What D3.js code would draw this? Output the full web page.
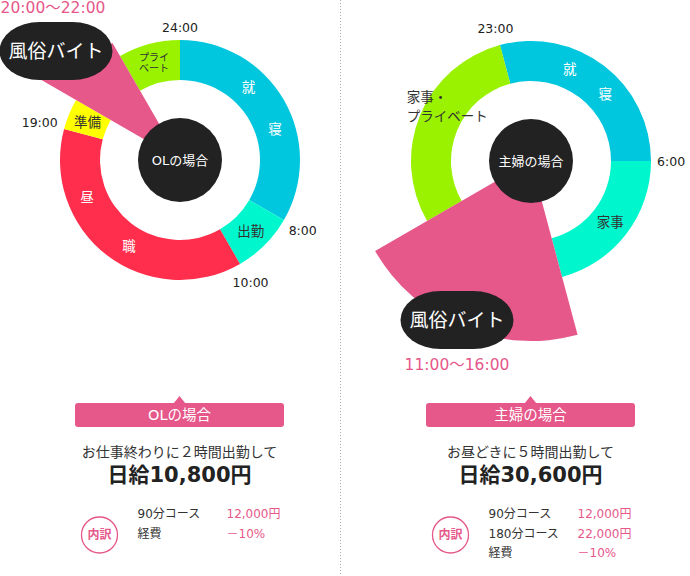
<!DOCTYPE html>
<html>
<head>
<meta charset="utf-8">
<script src="https://cdn.jsdelivr.net/npm/d3@7"></script>
<style>
  body { margin: 0; background: #fff; }
  text { font-family: "DejaVu Sans", "Noto Sans CJK JP", sans-serif; }
</style>
</head>
<body>
<div id="chart"></div>
<script>
// OL day
const olNames = ["就寝", "出勤", "昼職", "準備", "風俗バイト", "プライベート"];
const olStart = [0, 8, 10, 19, 20, 22];
const olEnd = [8, 10, 19, 20, 22, 24];
const olTicks = [24, 8, 10, 19];
const olTickLabels = ["24:00", "8:00", "10:00", "19:00"];
const olJobRange = "20:00〜22:00";

// housewife day
const shuNames = ["就寝", "家事", "風俗バイト", "家事・プライベート"];
const shuStart = [23, 6, 11, 16];
const shuEnd = [6, 11, 16, 23];
const shuTicks = [23, 6];
const shuTickLabels = ["23:00", "6:00"];
const shuJobRange = "11:00〜16:00";

// summary texts
const caseNames = ["OLの場合", "主婦の場合"];
const caseLeads = ["お仕事終わりに２時間出勤して", "お昼どきに５時間出勤して"];
const casePay = ["日給10,800円", "日給30,600円"];
const olItems = ["90分コース", "経費"];
const olAmounts = ["12,000円", "－10%"];
const shuItems = ["90分コース", "180分コース", "経費"];
const shuAmounts = ["12,000円", "22,000円", "－10%"];

const JOB = "風俗バイト";
const pink = "#e6578a";
const color = d3.scaleOrdinal()
  .domain(["就寝", "出勤", "昼職", "準備", "プライベート", "家事", "家事・プライベート", JOB])
  .range(["#00c6de", "#00f7cd", "#ff2e4c", "#ffff00", "#9af200", "#00f7cd", "#9af200", pink]);
const textColor = { "就寝": "#fff", "昼職": "#fff" };
// where single characters sit along their arc (fraction of the slice)
const spread = { "就寝": [0.36, 0.6], "昼職": [0.73, 0.45] };
const labelFrac = { "家事・プライベート": 0.6 };
const lines = { "プライベート": ["プライ", "ベート"], "家事・プライベート": ["家事・", "プライベート"] };

const W = 690, H = 576;
const rIn = 80, rOut = 120, rMid = 100;

const svg = d3.select("#chart").append("svg")
  .attr("width", W).attr("height", H);

const angle = d3.scaleLinear().domain([0, 24]).range([0, 2 * Math.PI]);
const pt = (h, r) => [Math.sin(angle(h)) * r, -Math.cos(angle(h)) * r];

// divider
svg.append("line")
  .attr("x1", 340.5).attr("x2", 340.5).attr("y1", 0).attr("y2", H)
  .attr("stroke", "#aaa").attr("stroke-dasharray", "1,2");

function donut(cx, cy, names, start, end, ticks, tickLabels, opt) {
  const g = svg.append("g").attr("transform", `translate(${cx},${cy})`);
  const segs = names.map((n, i) => ({
    name: n,
    s: start[i] > end[i] ? start[i] - 24 : start[i],
    e: end[i]
  }));
  const ring = d3.arc().innerRadius(rIn).outerRadius(rOut);

  g.selectAll("path.seg")
    .data(segs.filter(d => d.name !== JOB))
    .enter().append("path")
    .attr("class", "seg")
    .attr("d", d => ring({ startAngle: angle(d.s), endAngle: angle(d.e) }))
    .attr("fill", d => color(d.name));

  const job = segs.find(d => d.name === JOB);
  if (opt.jobTri) {
    g.append("path")
      .attr("d", d3.line()([[0, 0], pt(job.s, opt.jobTri[0]), pt(job.e, opt.jobTri[1])]) + "Z")
      .attr("fill", color(JOB));
  } else {
    g.append("path")
      .attr("d", d3.arc().innerRadius(0).outerRadius(opt.jobR)({ startAngle: angle(job.s), endAngle: angle(job.e) }))
      .attr("fill", color(JOB));
  }

  // slice labels
  segs.filter(d => d.name !== JOB).forEach(d => {
    const fill = textColor[d.name] || "#333";
    if (spread[d.name]) {
      Array.from(d.name).forEach((ch, k) => {
        const p = pt(d.s + (d.e - d.s) * spread[d.name][k], rMid);
        g.append("text").attr("x", p[0]).attr("y", p[1])
          .attr("text-anchor", "middle").attr("dominant-baseline", "central")
          .attr("font-size", 13.5).attr("fill", fill).text(ch);
      });
      return;
    }
    const f = labelFrac[d.name] !== undefined ? labelFrac[d.name] : 0.5;
    const p = pt(d.s + (d.e - d.s) * f, rMid);
    const ls = lines[d.name] || [d.name];
    const small = d.name === "プライベート";
    const fs = small ? 10 : 13.5;
    const lh = small ? 11 : 19;
    const t = g.append("text").attr("font-size", fs).attr("fill", fill)
      .attr("text-anchor", ls.length > 1 && !small ? "start" : "middle");
    ls.forEach((l, k) => {
      t.append("tspan").attr("x", 0).attr("y", (k - (ls.length - 1) / 2) * lh)
        .attr("dominant-baseline", "central").text(l);
    });
    const b = t.node().getBBox();
    t.attr("transform", `translate(${p[0] - (b.x + b.width / 2)},${p[1] - (b.y + b.height / 2)})`);
  });

  // hour ticks outside the ring
  ticks.forEach((h, i) => {
    const t = g.append("text").attr("font-size", 12.5).attr("fill", "#222")
      .attr("text-anchor", "middle").attr("dominant-baseline", "central")
      .text(tickLabels[i]);
    const b = t.node().getBBox();
    const dx = Math.sin(angle(h)), dy = -Math.cos(angle(h));
    const ext = Math.abs(dx) * b.width / 2 + Math.abs(dy) * 7;
    const r = rOut + 6 + ext;
    t.attr("x", dx * r).attr("y", dy * r);
  });

  // centre disc
  g.append("circle").attr("r", 42).attr("fill", "#222");
  g.append("text").attr("text-anchor", "middle").attr("dominant-baseline", "central")
    .attr("font-size", 13).attr("fill", "#fff").text(opt.title);

  // bubble
  const bx = opt.bubble[0] - cx, by = opt.bubble[1] - cy;
  g.append("rect")
    .attr("x", bx - 56.5).attr("y", by - 29).attr("width", 113).attr("height", 58)
    .attr("rx", 40).attr("ry", 29).attr("fill", "#222");
  g.append("text").attr("x", bx).attr("y", by)
    .attr("text-anchor", "middle").attr("dominant-baseline", "central")
    .attr("font-size", 19).attr("fill", "#fff").text(JOB);

  svg.append("text").attr("x", opt.range[0]).attr("y", opt.range[1])
    .attr("text-anchor", "middle").attr("dominant-baseline", "central")
    .attr("font-size", 15.5).attr("fill", pink).text(opt.rangeText);
}

donut(180, 160, olNames, olStart, olEnd, olTicks, olTickLabels, {
  jobTri: [165, 135], title: caseNames[0], bubble: [56, 51],
  range: [53, 8], rangeText: olJobRange
});
donut(531, 161, shuNames, shuStart, shuEnd, shuTicks, shuTickLabels, {
  jobR: 180, title: caseNames[1], bubble: [457, 320],
  range: [457, 365], rangeText: shuJobRange
});

function summary(cx, i, items, amounts) {
  const g = svg.append("g").attr("transform", `translate(${cx},0)`);
  g.append("rect").attr("x", -104.5).attr("y", 403).attr("width", 209).attr("height", 24)
    .attr("rx", 3).attr("fill", pink);
  g.append("path").attr("d", "M-6,403.5L0,396L6,403.5Z").attr("fill", pink);
  g.append("text").attr("y", 415).attr("text-anchor", "middle").attr("dominant-baseline", "central")
    .attr("font-size", 14.5).attr("fill", "#fff").text(caseNames[i]);
  g.append("text").attr("y", 452).attr("text-anchor", "middle").attr("dominant-baseline", "central")
    .attr("font-size", 14).attr("fill", "#333").text(caseLeads[i]);
  g.append("text").attr("y", 475).attr("text-anchor", "middle").attr("dominant-baseline", "central")
    .attr("font-size", 21).attr("font-weight", "bold").attr("fill", "#222").text(casePay[i]);

  g.append("circle").attr("cx", -80).attr("cy", 535).attr("r", 18)
    .attr("fill", "#fff").attr("stroke", pink).attr("stroke-width", 1.3);
  g.append("text").attr("x", -80).attr("y", 535).attr("text-anchor", "middle")
    .attr("dominant-baseline", "central").attr("font-size", 12).attr("font-weight", "bold")
    .attr("fill", pink).text("内訳");

  const row = d3.scalePoint().domain(d3.range(items.length)).range([0, (items.length - 1) * 19.5]);
  items.forEach((it, k) => {
    g.append("text").attr("x", -42).attr("y", 514 + row(k)).attr("dominant-baseline", "central")
      .attr("font-size", 12).attr("fill", "#333").text(it);
    g.append("text").attr("x", 47).attr("y", 514 + row(k)).attr("dominant-baseline", "central")
      .attr("font-size", 12).attr("fill", pink).text(amounts[k]);
  });
}

summary(179.5, 0, olItems, olAmounts);
summary(530.5, 1, shuItems, shuAmounts);
</script>
</body>
</html>
